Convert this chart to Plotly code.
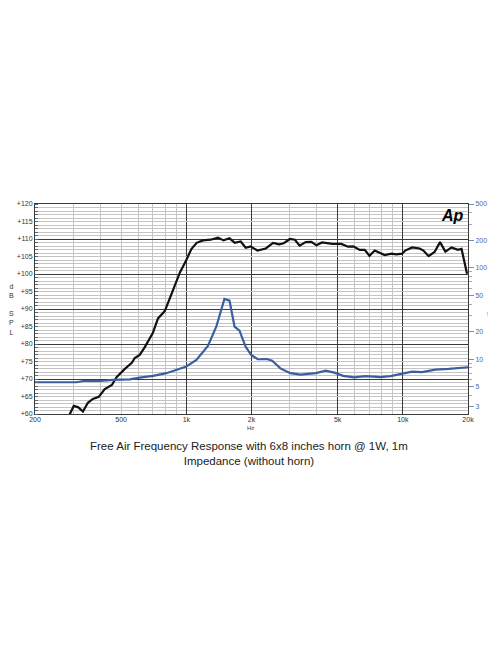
import plotly.graph_objects as go

# SPL curve (Hz, dB)
spl_freq = [284, 302, 317, 333, 351, 370, 394, 420, 453, 477, 520, 560, 578, 609, 643,
            700, 740, 795, 868, 932, 1000, 1055, 1116, 1193, 1295, 1399, 1486, 1583, 1675,
            1783, 1881, 1979, 2131, 2328, 2516, 2682, 2818, 3008, 3174, 3336, 3560, 3782,
            3988, 4234, 4724, 5197, 5586, 5902, 6325, 6669, 7010, 7416, 8245, 8854, 9336,
            9930, 10252, 11042, 11955, 12446, 13166, 14014, 14860, 15720, 16790, 17950,
            18670, 19790]
spl_db = [58.9, 62.3, 61.9, 60.7, 63.2, 64.3, 64.9, 67.1, 68.3, 70.6, 72.9, 74.6, 76.0, 76.9, 79.1,
          83.1, 87.3, 89.4, 95.4, 100.3, 104.0, 107.1, 108.9, 109.6, 109.8, 110.4, 109.6, 110.2, 108.9,
          109.3, 107.5, 107.9, 106.7, 107.3, 108.9, 108.5, 108.8, 110.0, 109.8, 108.1, 109.1, 109.2,
          108.2, 109.0, 108.6, 108.6, 107.8, 107.9, 106.9, 106.9, 105.2, 106.7, 105.4, 105.8, 105.6,
          105.8, 106.7, 107.6, 107.3, 106.7, 105.1, 106.3, 109.1, 106.4, 107.6, 106.9,
          107.2, 100.1]

# impedance curve (Hz, ohm)
imp_freq = [200, 311, 334, 399, 459, 548, 609, 702, 809, 900, 1000, 1113, 1258, 1375, 1450,
            1500, 1583, 1670, 1761, 1877, 1994, 2138, 2353, 2492, 2720, 3024, 3364, 3809, 3974,
            4400, 4825, 5298, 5966, 6724, 7888, 8770, 9930, 11042, 12276, 14134, 16294, 18430, 20000]
imp_ohm = [5.57, 5.57, 5.75, 5.75, 5.9, 6.0, 6.26, 6.53, 7.0, 7.6, 8.3, 9.8, 13.9, 22.6, 34.5,
           45.6, 43.6, 22.6, 20.5, 13.7, 11.1, 9.95, 10.0, 9.6, 7.9, 7.0, 6.75, 6.9, 7.0,
           7.45, 7.1, 6.55, 6.3, 6.5, 6.35, 6.5, 6.85, 7.28, 7.2, 7.66, 7.79, 7.93, 8.13]

x_ticks = [200, 500, 1000, 2000, 5000, 10000, 20000]
x_labels = ['200', '500', '1k', '2k', '5k', '10k', '20k']
x_major = [1000, 2000, 5000, 10000]
x_minor = [300, 400, 500, 600, 700, 800, 900, 3000, 4000, 6000, 7000, 8000, 9000]

db_ticks = list(range(60, 121, 5))
db_labels = ['+%d' % v for v in db_ticks]
db_major = list(range(70, 111, 10))

ohm_ticks = [3, 5, 10, 20, 50, 100, 200, 500]
ohm_labels = [str(v) for v in ohm_ticks]
ohm_minor = [4, 6, 7, 8, 9, 30, 40, 60, 70, 80, 90, 300, 400]

blue = '#3a5f9f'
grey = '#c4c4c4'
dark = '#3a3a3a'

fig = go.Figure()
fig.add_trace(go.Scatter(x=imp_freq, y=imp_ohm, mode='lines', xaxis='x2', yaxis='y2',
                         line=dict(color=blue, width=2.2), showlegend=False, hoverinfo='skip'))
fig.add_trace(go.Scatter(x=spl_freq, y=spl_db, mode='lines',
                         line=dict(color='#111111', width=2.2), showlegend=False, hoverinfo='skip'))
# empty helper trace so the dark 10 dB grid axis gets drawn
fig.add_trace(go.Scatter(x=[], y=[], yaxis='y3', showlegend=False, hoverinfo='skip'))

xr = [2.30103, 4.30103]
# the page body adds an 8px offset, margins compensate for it
fig.update_layout(
    width=496, height=664,
    paper_bgcolor='white', plot_bgcolor='white',
    margin=dict(l=27, r=36, t=196, b=258),
    font=dict(family='Liberation Sans, Arial', color='#333333', size=7),
    xaxis=dict(type='log', range=xr, tickvals=x_major, showticklabels=False, ticks='',
               showgrid=True, gridcolor=dark, gridwidth=1, automargin=False,
               minor=dict(tickvals=x_minor, showgrid=True, gridcolor=grey, gridwidth=1, ticks=''),
               showline=True, linecolor=dark, linewidth=1, mirror=True),
    xaxis2=dict(type='log', range=xr, overlaying='x', anchor='y', side='bottom',
                tickvals=x_ticks, ticktext=x_labels, showgrid=False, ticks='', automargin=False,
                tickfont=dict(size=7, color='#333333')),
    yaxis=dict(range=[60, 120], tickvals=db_ticks, ticktext=db_labels, showgrid=True,
               gridcolor=grey, gridwidth=1, ticks='', tickfont=dict(size=7, color='#333333'),
               minor=dict(dtick=1, showgrid=True, gridcolor=grey, gridwidth=1,
                          ticks='inside', ticklen=3, tickcolor='#666666'),
               showline=True, linecolor=dark, linewidth=1, mirror=True, zeroline=False,
               automargin=False),
    yaxis3=dict(range=[60, 120], overlaying='y', tickvals=db_major, showticklabels=False,
                showgrid=True, gridcolor=dark, gridwidth=1, ticks='', zeroline=False,
                automargin=False),
    yaxis2=dict(type='log', range=[0.39794, 2.69897], overlaying='y', side='right', anchor='x2',
                tickvals=ohm_ticks, ticktext=ohm_labels, ticks='outside', ticklen=5,
                tickcolor='#7a8fb8', showgrid=False, tickfont=dict(size=7, color='#4a6aa5'),
                automargin=False, zeroline=False,
                minor=dict(tickvals=ohm_minor, ticks='outside', ticklen=3, tickcolor='#9aaacc')),
)

fig.add_annotation(text='Free Air Frequency Response with 6x8 inches horn @ 1W, 1m<br>Impedance (without horn)',
                   xref='paper', yref='paper', x=0.495, y=-0.115, yanchor='top', showarrow=False,
                   font=dict(size=11.5, color='#222222', family='Liberation Sans, Arial'))
fig.add_annotation(text='Hz', xref='paper', yref='paper', x=0.498, y=-0.045, yanchor='top',
                   showarrow=False, font=dict(size=6, color='#333333'))
fig.add_annotation(text='d<br>B<br><br>S<br>P<br>L', xref='paper', yref='paper', x=-0.055, y=0.5,
                   xanchor='center', showarrow=False, font=dict(size=7, color='#333333'))
fig.add_annotation(text='\u03a9', xref='paper', yref='paper', x=1.05, y=0.48, xanchor='center',
                   showarrow=False, font=dict(size=8, color='#4a6aa5'))
fig.add_annotation(text='<b><i>Ap</i></b>', xref='paper', yref='paper', x=0.995, y=0.995,
                   xanchor='right', yanchor='top', showarrow=False,
                   font=dict(size=16, color='#000000', family='Liberation Sans, Arial'))

fig.write_html("out.html")
